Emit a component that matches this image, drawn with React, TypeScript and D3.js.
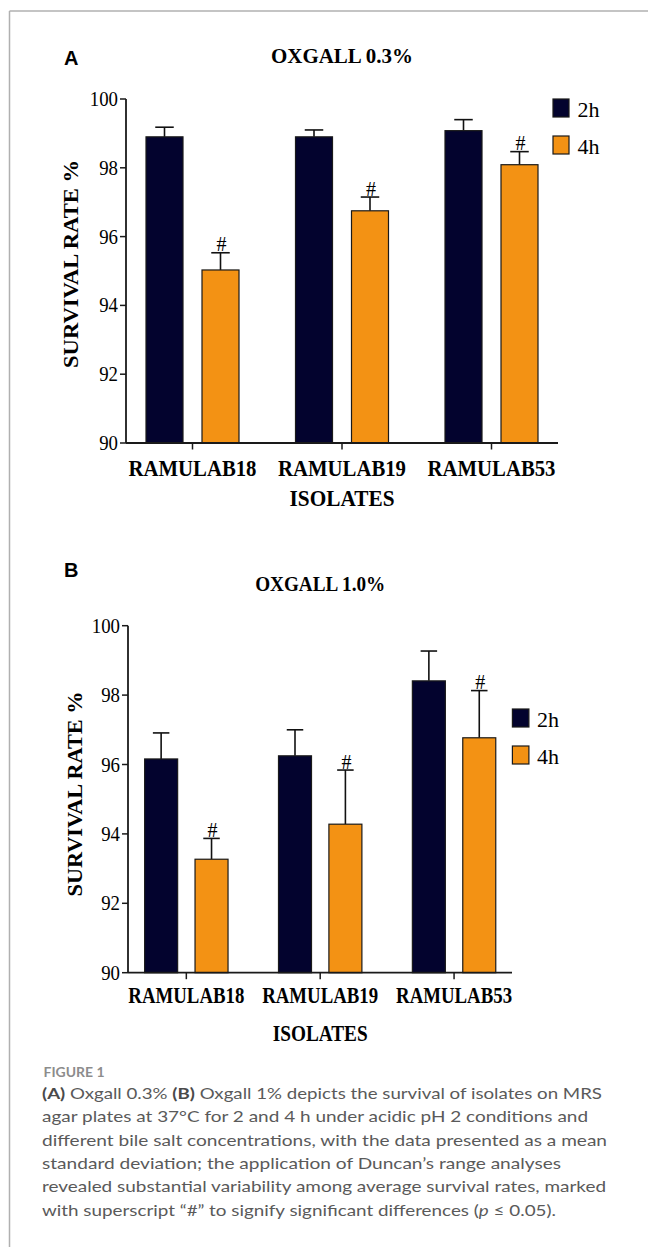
import React from "react";
import * as d3 from "d3";

const isolates = ["RAMULAB18", "RAMULAB19", "RAMULAB53"];
const times = ["2h", "4h"];
const yTicks = [90, 92, 94, 96, 98, 100];

// A: oxgall 0.3%
const meanA2h = [98.9, 98.9, 99.08];
const sdA2h = [0.28, 0.2, 0.32];
const meanA4h = [95.03, 96.75, 98.09];
const sdA4h = [0.5, 0.4, 0.38];
const sigA4h = [true, true, true];

// B: oxgall 1.0%
const meanB2h = [96.16, 96.25, 98.41];
const sdB2h = [0.75, 0.75, 0.86];
const meanB4h = [93.27, 94.28, 96.77];
const sdB4h = [0.6, 1.56, 1.36];
const sigB4h = [true, true, true];

const colors = { "2h": "#03032e", "4h": "#f39214" };
const serif = "'Liberation Serif', 'Times New Roman', serif";
const sans = "'Liberation Sans', Arial, sans-serif";
const capFont = "Lato, 'Open Sans', sans-serif";

const cfgA = {
  letter: "A", title: "OXGALL 0.3%", titleY: 63, titleW: 142, letterY: 65,
  xRange: [117.75, 566.25], axisX: 126, axisXEnd: 558,
  yTop: 99, yBottom: 443, offset: 28, barW: 37,
  labelY: 476, labelW: 128, isoY: 506, isoW: 105,
  yTitleX: 78, yTitleW: 208, yTitleC: 264,
  legendX: 553, legendY: 99, legendW: 16,
};
const cfgB = {
  letter: "B", title: "OXGALL 1.0%", titleY: 591, titleW: 130, letterY: 577,
  xRange: [119.4, 521], axisX: 128, axisXEnd: 512,
  yTop: 625.7, yBottom: 972.7, offset: 25.2, barW: 33,
  labelY: 1003, labelW: 116, isoY: 1041, isoW: 95,
  yTitleX: 82, yTitleW: 205, yTitleC: 794,
  legendX: 512.4, legendY: 709, legendW: 16.5,
};

const Panel = ({ cfg, mean2h, sd2h, mean4h, sd4h, sig4h }) => {
  const x = d3.scaleBand().domain(isolates).range(cfg.xRange);
  const sub = d3.scalePoint().domain(times).range([-cfg.offset, cfg.offset]);
  const y = d3.scaleLinear().domain([90, 100]).range([cfg.yBottom, cfg.yTop]);
  const cx = (iso) => x(iso) + x.bandwidth() / 2;

  const rows = isolates.flatMap((iso, i) => [
    { iso, t: "2h", mean: mean2h[i], sd: sd2h[i], sig: false },
    { iso, t: "4h", mean: mean4h[i], sd: sd4h[i], sig: sig4h[i] },
  ]);
  const midX = cx(isolates[1]);

  return (
    <g>
      <text x={64} y={cfg.letterY} fontFamily={sans} fontWeight="bold" fontSize={20}>
        {cfg.letter}
      </text>
      <text x={midX} y={cfg.titleY} textAnchor="middle" fontFamily={serif} fontWeight="bold"
        fontSize={20} textLength={cfg.titleW} lengthAdjust="spacingAndGlyphs">
        {cfg.title}
      </text>

      {/* bars + error bars */}
      {rows.map((d, i) => {
        const c = cx(d.iso) + sub(d.t);
        const top = y(d.mean + d.sd);
        return (
          <g key={i}>
            <line x1={c} x2={c} y1={y(d.mean)} y2={top} stroke="#111" strokeWidth={1.6} />
            <line x1={c - cfg.barW / 4} x2={c + cfg.barW / 4} y1={top} y2={top} stroke="#111" strokeWidth={1.6} />
            <rect x={c - cfg.barW / 2} y={y(d.mean)} width={cfg.barW} height={y(90) - y(d.mean)}
              fill={colors[d.t]} stroke="#1a1a1a" strokeWidth={1.2} />
            {d.sig && (
              <text x={c + 1} y={top - 1.5} textAnchor="middle" fontFamily={serif} fontSize={20}>#</text>
            )}
          </g>
        );
      })}

      {/* y axis */}
      <line x1={cfg.axisX} x2={cfg.axisX} y1={y(100)} y2={y(90)} stroke="#1a1a1a" strokeWidth={1.8} />
      {yTicks.map((t) => (
        <g key={t}>
          <line x1={cfg.axisX - 6} x2={cfg.axisX} y1={y(t)} y2={y(t)} stroke="#1a1a1a" strokeWidth={1.5} />
          <text x={cfg.axisX - 8} y={y(t) + 7} textAnchor="end" fontFamily={serif} fontSize={21}
            textLength={String(t).length * 9.4} lengthAdjust="spacingAndGlyphs">
            {t}
          </text>
        </g>
      ))}

      {/* x axis */}
      <line x1={cfg.axisX} x2={cfg.axisXEnd} y1={y(90)} y2={y(90)} stroke="#1a1a1a" strokeWidth={1.8} />
      {isolates.map((iso) => (
        <g key={iso}>
          <line x1={cx(iso)} x2={cx(iso)} y1={y(90)} y2={y(90) + 6.5} stroke="#1a1a1a" strokeWidth={1.5} />
          <text x={cx(iso)} y={cfg.labelY} textAnchor="middle" fontFamily={serif} fontWeight="bold"
            fontSize={23} textLength={cfg.labelW} lengthAdjust="spacingAndGlyphs">
            {iso}
          </text>
        </g>
      ))}
      <text x={midX} y={cfg.isoY} textAnchor="middle" fontFamily={serif} fontWeight="bold"
        fontSize={23} textLength={cfg.isoW} lengthAdjust="spacingAndGlyphs">
        ISOLATES
      </text>

      <text transform={`translate(${cfg.yTitleX},${cfg.yTitleC}) rotate(-90)`} textAnchor="middle"
        fontFamily={serif} fontWeight="bold" fontSize={22} textLength={cfg.yTitleW}
        lengthAdjust="spacingAndGlyphs">
        SURVIVAL RATE %
      </text>

      {/* legend */}
      {times.map((t, i) => (
        <g key={t}>
          <rect x={cfg.legendX} y={cfg.legendY + i * 37} width={cfg.legendW} height={18}
            fill={colors[t]} stroke="#1a1a1a" strokeWidth={1.2} />
          <text x={cfg.legendX + 24.5} y={cfg.legendY + i * 37 + 18} fontFamily={serif} fontSize={22}>
            {t}
          </text>
        </g>
      ))}
    </g>
  );
};

const captionWidths = [560, 546, 565, 519, 564, 514];
const captionY = [1099, 1122.3, 1145.6, 1169, 1192.2, 1215.5];

const App = () => {
  return (
    <svg width={648} height={1247} style={{ position: "absolute", left: 0, top: 0, background: "#fff" }}>
      <rect width={648} height={1247} fill="#fff" />
      <line x1={9.5} x2={9.5} y1={11} y2={1247} stroke="#b0b0b0" strokeWidth={1.5} />
      <line x1={9.5} x2={648} y1={11} y2={11} stroke="#b0b0b0" strokeWidth={1.5} />

      <Panel cfg={cfgA} mean2h={meanA2h} sd2h={sdA2h} mean4h={meanA4h} sd4h={sdA4h} sig4h={sigA4h} />
      <Panel cfg={cfgB} mean2h={meanB2h} sd2h={sdB2h} mean4h={meanB4h} sd4h={sdB4h} sig4h={sigB4h} />

      <text x={43.5} y={1076.5} fontFamily={capFont} fontWeight="bold" fontSize={13.5} fill="#8c8c8c"
        textLength={61} lengthAdjust="spacingAndGlyphs">
        FIGURE 1
      </text>
      <g fontFamily={capFont} fontSize={15} fontWeight={400} fill="#5a5a5a">
        <text x={42} y={captionY[0]} textLength={captionWidths[0]} lengthAdjust="spacingAndGlyphs">
          <tspan fontWeight="bold" fill="#4a4a4a">(A)</tspan> Oxgall 0.3%{" "}
          <tspan fontWeight="bold" fill="#4a4a4a">(B)</tspan> Oxgall 1% depicts the survival of isolates on MRS
        </text>
        <text x={42} y={captionY[1]} textLength={captionWidths[1]} lengthAdjust="spacingAndGlyphs">
          agar plates at 37°C for 2 and 4 h under acidic pH 2 conditions and
        </text>
        <text x={42} y={captionY[2]} textLength={captionWidths[2]} lengthAdjust="spacingAndGlyphs">
          different bile salt concentrations, with the data presented as a mean
        </text>
        <text x={42} y={captionY[3]} textLength={captionWidths[3]} lengthAdjust="spacingAndGlyphs">
          standard deviation; the application of Duncan’s range analyses
        </text>
        <text x={42} y={captionY[4]} textLength={captionWidths[4]} lengthAdjust="spacingAndGlyphs">
          revealed substantial variability among average survival rates, marked
        </text>
        <text x={42} y={captionY[5]} textLength={captionWidths[5]} lengthAdjust="spacingAndGlyphs">
          with superscript “#” to signify significant differences (<tspan fontStyle="italic">p</tspan> ≤ 0.05).
        </text>
      </g>
    </svg>
  );
};

export default App;
